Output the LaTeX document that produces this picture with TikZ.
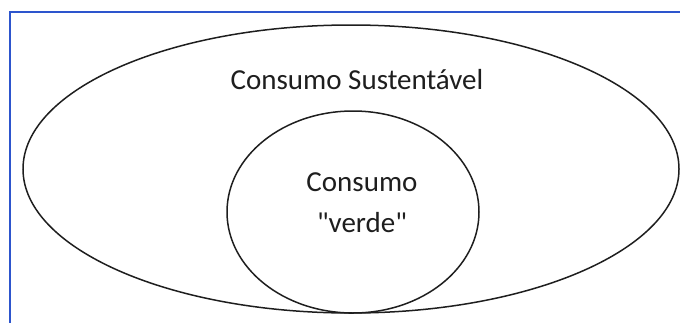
\documentclass[tikz,border=0pt]{standalone}
\usepackage{fontspec}
\newfontfamily\carl{Carlito}
\usetikzlibrary{shapes.geometric}
\definecolor{frameblue}{RGB}{45,85,205}
\definecolor{ink}{RGB}{30,30,30}
\tikzset{
  oval/.style={ellipse, draw=ink, line width=1.5pt, inner sep=0pt, outer sep=0pt},
  lbl/.style={font=\carl\fontsize{29}{41}\selectfont, text=ink, anchor=base, inner sep=0pt},
  frame/.style={draw=frameblue, line width=1.6pt}
}
\begin{document}
\begin{tikzpicture}[x=1pt,y=-1pt]
\useasboundingbox (0,0) rectangle (680,322);
\coordinate (tl) at (10,12);
\coordinate (tr) at (681,12);
\coordinate (bl) at (10,323);
\draw[frame] (tr) -- (tl) -- (bl);
\node[oval, minimum width=656pt, minimum height=288pt] (outer) at (351,169) {};
\node[oval, minimum width=252pt, minimum height=202pt] (inner) at (353,212) {};
\node[lbl] (t1) at (357,89) {Consumo Sustentável};
\node[lbl] (t2) at (362,191) {Consumo};
\node[lbl] (t3) at (362,232) {"verde"};
\end{tikzpicture}
\end{document}
